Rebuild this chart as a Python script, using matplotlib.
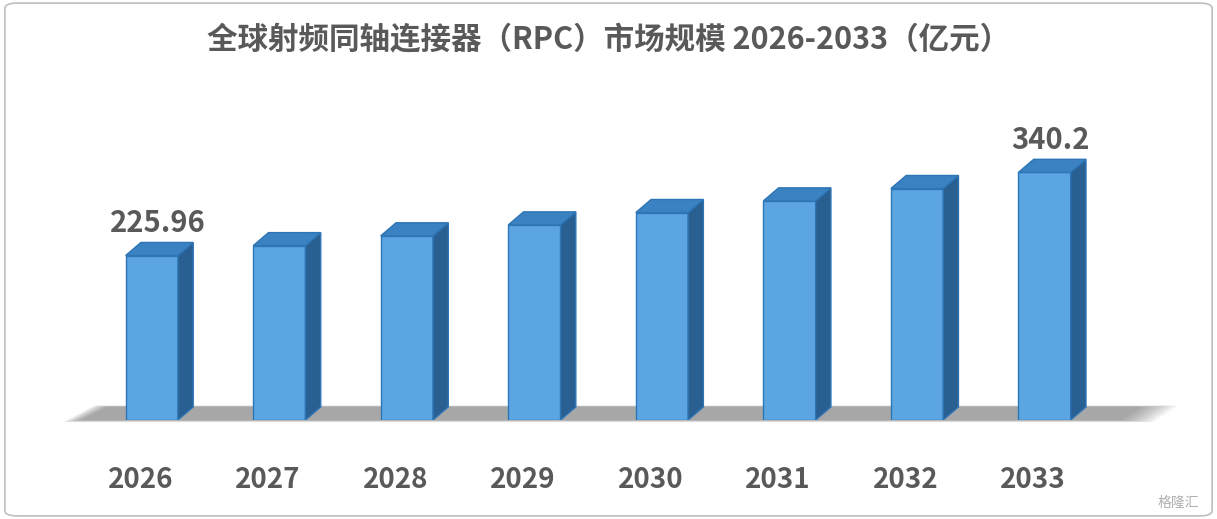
import matplotlib.pyplot as plt
from matplotlib.patches import Polygon, FancyBboxPatch
import numpy as np

plt.rcParams['font.family'] = ['Noto Sans CJK SC', 'DejaVu Sans']

years = ["2026", "2027", "2028", "2029", "2030", "2031", "2032", "2033"]
values = [225.96, 239.5, 253.0, 268.0, 285.0, 301.0, 318.0, 340.2]
labels = {0: "225.96", 7: "340.2"}

fig = plt.figure(figsize=(12.17, 5.19), dpi=100)
fig.patch.set_facecolor("white")
fig.patches.append(FancyBboxPatch((0.004, 0.006), 0.992, 0.988, boxstyle="round,pad=0,rounding_size=0.01",
                                  transform=fig.transFigure, fill=False, ec="#bfbfbf", lw=1.2))
ax = fig.add_axes([88 / 1217, 99 / 519, (1130 - 88) / 1217, 270 / 519])
ax.set_xlim(-0.5, 7.67)
ax.set_ylim(0, 371)
ax.axis("off")

x = np.arange(len(years))
w = 0.41
dx, dy = 0.12, 18

# soft floor shadow
for i in range(14):
    s = i / 13
    ax.add_patch(Polygon([(-0.55 - 0.15 * s, -3 * s), (7.6 + 0.25 * s, -3 * s),
                          (7.75 + 0.3 * s, dy + 2 * s), (-0.35 - 0.1 * s, dy + 2 * s)],
                         closed=True, fc="#606060", ec="none", alpha=0.05, zorder=1, clip_on=False))

bars = ax.bar(x, values, width=w, color="#5ba6e2", edgecolor="#2e75b6", linewidth=1, zorder=3)
for b, v in zip(bars, values):
    x0, x1 = b.get_x(), b.get_x() + b.get_width()
    ax.add_patch(Polygon([(x1, 0), (x1 + dx, dy), (x1 + dx, v + dy), (x1, v)], closed=True,
                         fc="#2a5f91", ec="#2e75b6", lw=1, zorder=3))
    ax.add_patch(Polygon([(x0, v), (x0 + dx, v + dy), (x1 + dx, v + dy), (x1, v)], closed=True,
                         fc="#3a82c2", ec="#2e75b6", lw=1, zorder=3))

for i, t in labels.items():
    ax.text(x[i] + 0.05, values[i] + dy + 6, t, ha="center", va="bottom", fontsize=21,
            fontweight="bold", color="#595959", zorder=4)

for xi, y in zip(x, years):
    ax.text(xi - 0.09, -82, y, ha="center", va="center", fontsize=20, fontweight="bold",
            color="#595959", clip_on=False)

fig.text(0.5, 0.922, "全球射频同轴连接器（RPC）市场规模 2026-2033（亿元）", ha="center", va="center",
         fontsize=22, fontweight="bold", color="#595959")
fig.text(0.985, 0.03, "格隆汇", ha="right", va="center", fontsize=10, color="#b0b0b0")

fig.savefig("out.png", dpi=100, facecolor="white")
